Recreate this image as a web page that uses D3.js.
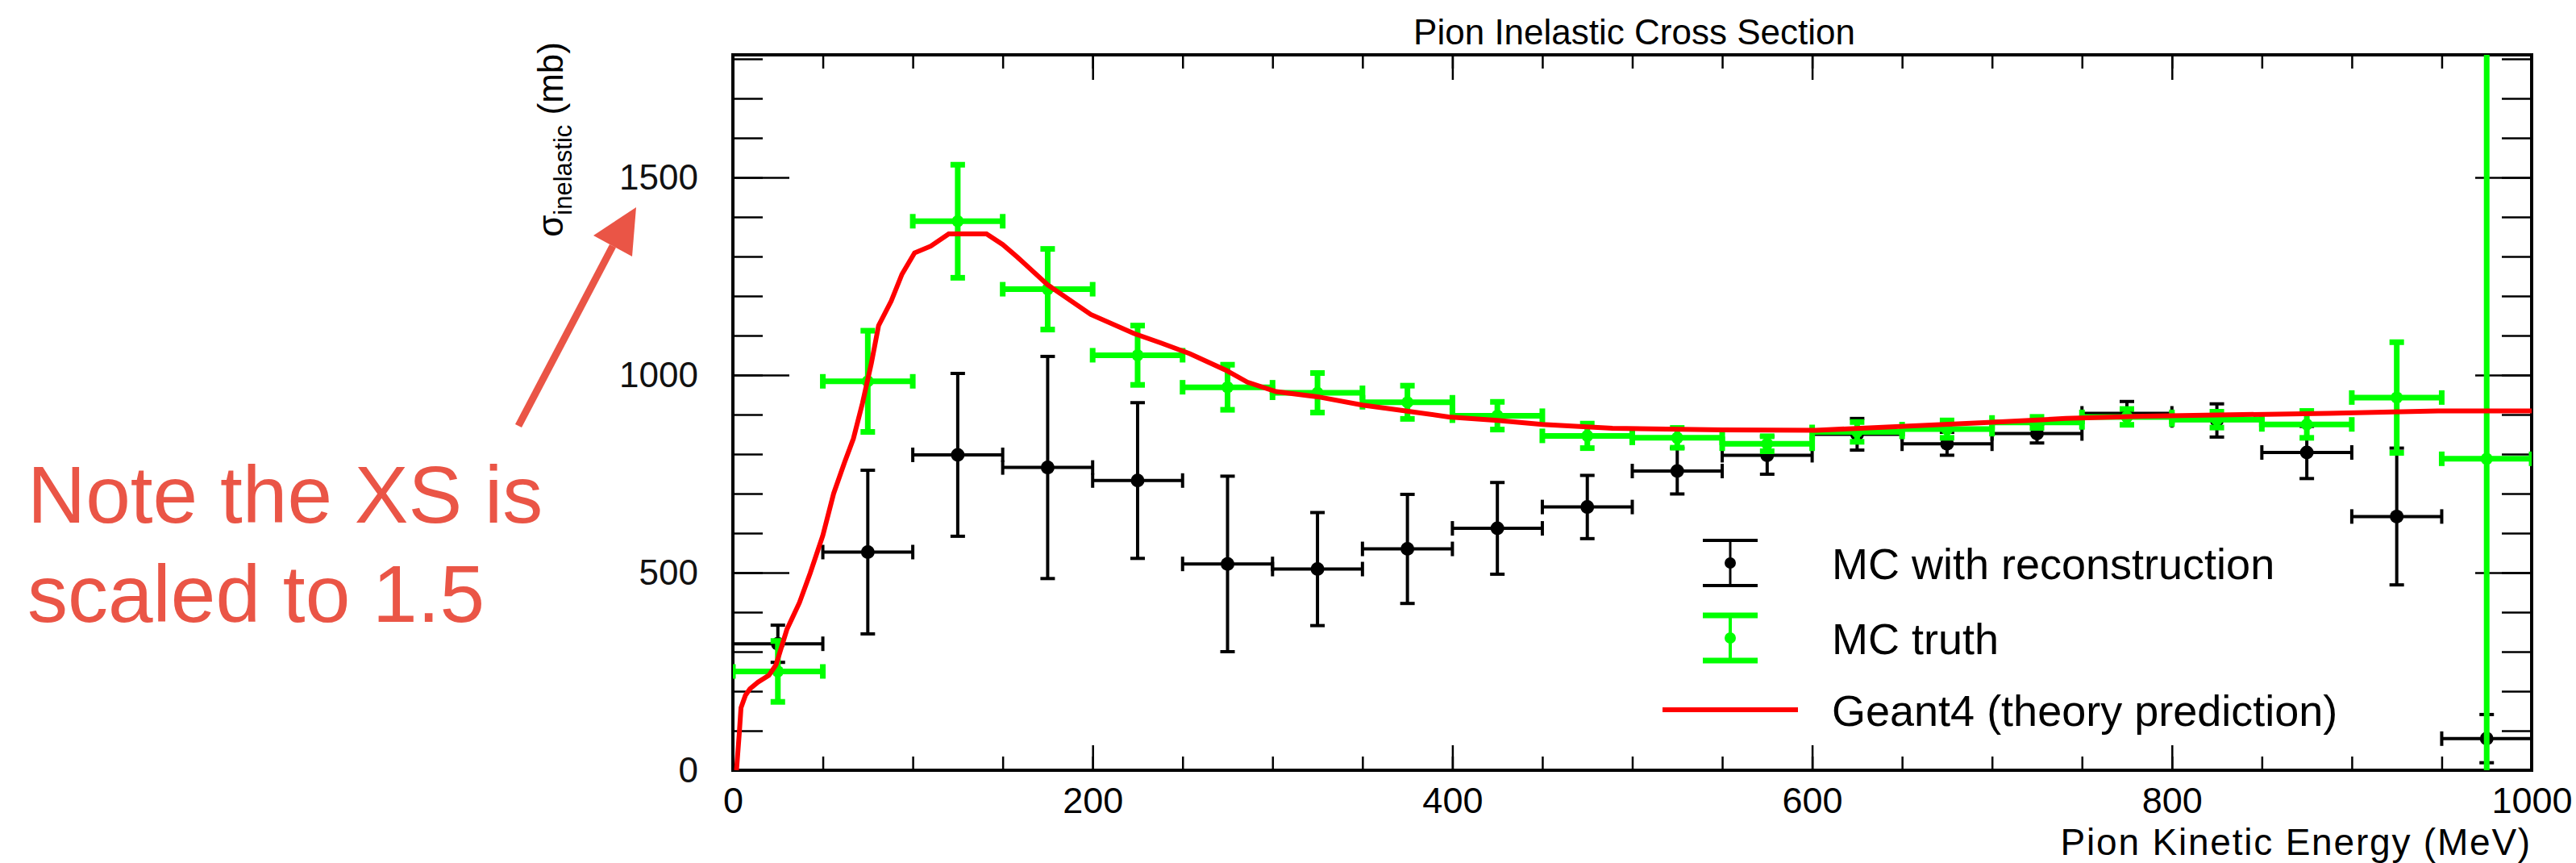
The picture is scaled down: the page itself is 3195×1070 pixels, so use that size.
<!DOCTYPE html>
<html>
<head>
<meta charset="utf-8">
<script src="https://cdn.jsdelivr.net/npm/d3@7/dist/d3.min.js"></script>
<style>
  body { margin: 0; background: #fff; }
  svg { display: block; }
  text { font-family: "Liberation Sans", Arial, Helvetica, sans-serif; }
</style>
</head>
<body>
<svg id="chart" width="3195" height="1070"></svg>
<script>
// bins of 50 MeV, centres
const binCenters = [25, 75, 125, 175, 225, 275, 325, 375, 425, 475, 525, 575, 625, 675, 725, 775, 825, 875, 925, 975];
const binHalfWidth = 25;

// MC with reconstruction (black)
const recoValues = [320, 552, 798, 766, 733, 522, 509, 560, 612, 666, 757, 797, 850, 826, 852, 903, 885, 804, 642, 80];
const recoErrors = [47, 207, 206, 281, 197, 222, 143, 138, 116, 80, 58, 48, 40, 29, 24, 30, 42, 66, 173, 61];

// MC truth (green)
const truthValues = [250, 984, 1389, 1217, 1050, 969, 955, 931, 897, 846, 841, 826, 856, 863, 880, 894, 887, 875, 943, 788];
const truthErrors = [77, 128, 143, 102, 75, 57, 50, 42, 35, 31, 25, 19, 25, 22, 14, 20, 20, 34, 140, 1100];

// Geant4 prediction (red curve)
const geantEnergy = [2, 3.5, 4.5, 7, 9.5, 14, 20, 24, 30, 37, 43, 50, 56, 62, 67, 72, 77, 81, 88, 94, 101, 110, 120, 141, 150, 158, 175, 199, 223, 238, 254, 275, 286, 302, 325, 350, 374, 398, 425, 450, 489, 550, 602, 649, 698, 741, 785, 887, 948, 1000];
const geantXS     = [0, 90, 158, 190, 206, 223, 240, 267, 356, 424, 499, 594, 700, 778, 839, 928, 1030, 1125, 1187, 1255, 1309, 1326, 1357, 1357, 1330, 1299, 1228, 1153, 1105, 1081, 1054, 1010, 982, 958, 945, 924, 909, 894, 885, 875, 865, 861, 860, 870, 880, 890, 896, 903, 909, 909];

const xTickValues = [0, 200, 400, 600, 800, 1000];
const xMinorTicks = d3.range(0, 1001, 50);
const yTickValues = [0, 500, 1000, 1500];
const yMinorTicks = d3.range(0, 1801, 100);
const legendLabels = ["MC with reconstruction", "MC truth", "Geant4 (theory prediction)"];

const svg = d3.select("#chart");
const x = d3.scaleLinear().domain([0, 1000]).range([909, 3140]);
const y = d3.scaleLinear().domain([0, 1810]).range([955, 68]);

svg.append("defs").append("clipPath").attr("id", "plotClip")
  .append("rect")
  .attr("x", x(0)).attr("y", y(1810))
  .attr("width", x(1000) - x(0)).attr("height", y(0) - y(1810));

// ticks (all pointing inside the frame, like ROOT)
function tickAxis(axis, transform, size, values, fmt) {
  const g = svg.append("g").attr("transform", transform)
    .call(axis.tickValues(values).tickSize(size).tickFormat(fmt || ""));
  g.select(".domain").remove();
  g.selectAll(".tick line").attr("stroke", "#000").attr("stroke-width", 2.5);
  return g;
}

const xb = tickAxis(d3.axisBottom(x).tickPadding(21), `translate(0,${y(0)})`, -31, xTickValues, d3.format("d"));
tickAxis(d3.axisBottom(x), `translate(0,${y(0)})`, -17, xMinorTicks);
tickAxis(d3.axisTop(x), `translate(0,${y(1810)})`, -31, xTickValues);
tickAxis(d3.axisTop(x), `translate(0,${y(1810)})`, -17, xMinorTicks);
xb.selectAll("text").attr("font-size", 45).attr("fill", "#000")
  .attr("font-family", "'Liberation Sans', Arial, sans-serif");

const yl = tickAxis(d3.axisLeft(y).tickPadding(43), `translate(${x(0)},0)`, -70, yTickValues, d3.format("d"));
tickAxis(d3.axisLeft(y), `translate(${x(0)},0)`, -37, yMinorTicks);
tickAxis(d3.axisRight(y), `translate(${x(1000)},0)`, -70, yTickValues);
tickAxis(d3.axisRight(y), `translate(${x(1000)},0)`, -37, yMinorTicks);
yl.selectAll("text").attr("font-size", 44).attr("fill", "#111")
  .attr("font-family", "'Liberation Sans', Arial, sans-serif");

// frame
svg.append("rect")
  .attr("x", x(0)).attr("y", y(1810))
  .attr("width", x(1000) - x(0)).attr("height", y(0) - y(1810))
  .attr("fill", "none").attr("stroke", "#000").attr("stroke-width", 4);

// error-bar series
function drawSeries(values, errors, color, lw, capW, r) {
  const g = svg.append("g").attr("clip-path", "url(#plotClip)");
  const pts = g.selectAll("g.pt")
    .data(binCenters.map((c, i) => ({ c: c, v: values[i], e: errors[i] })))
    .enter().append("g").attr("class", "pt");
  pts.append("line")
    .attr("x1", d => x(d.c - binHalfWidth)).attr("x2", d => x(d.c + binHalfWidth))
    .attr("y1", d => y(d.v)).attr("y2", d => y(d.v));
  pts.append("line")
    .attr("x1", d => x(d.c)).attr("x2", d => x(d.c))
    .attr("y1", d => y(d.v - d.e)).attr("y2", d => y(d.v + d.e));
  // caps on both bars
  [-1, 1].forEach(s => {
    pts.append("line")
      .attr("x1", d => x(d.c) - capW / 2).attr("x2", d => x(d.c) + capW / 2)
      .attr("y1", d => y(d.v + s * d.e)).attr("y2", d => y(d.v + s * d.e));
    pts.append("line")
      .attr("x1", d => x(d.c + s * binHalfWidth)).attr("x2", d => x(d.c + s * binHalfWidth))
      .attr("y1", d => y(d.v) - capW / 2).attr("y2", d => y(d.v) + capW / 2);
  });
  pts.selectAll("line").attr("stroke", color).attr("stroke-width", lw);
  pts.append("circle")
    .attr("cx", d => x(d.c)).attr("cy", d => y(d.v)).attr("r", r).attr("fill", color);
}

drawSeries(recoValues, recoErrors, "#000", 4, 18, 8.5);
drawSeries(truthValues, truthErrors, "#00ff00", 7, 18, 7.5);

// Geant4 curve
svg.append("path")
  .datum(geantEnergy.map((e, i) => [e, geantXS[i]]))
  .attr("clip-path", "url(#plotClip)")
  .attr("fill", "none").attr("stroke", "#ff0000").attr("stroke-width", 6)
  .attr("d", d3.line().x(d => x(d[0])).y(d => y(d[1])));

// legend
const legX = 2146, legTextX = 2272, legRows = [698, 791, 880];
const leg = svg.append("g");
[["#000", 4], ["#00ff00", 7]].forEach(([col, lw], i) => {
  const cy = legRows[i];
  leg.append("line").attr("x1", legX).attr("x2", legX).attr("y1", cy - 28).attr("y2", cy + 28)
    .attr("stroke", col).attr("stroke-width", lw === 4 ? 3 : 4);
  [-28, 28].forEach(o => leg.append("line")
    .attr("x1", legX - 34).attr("x2", legX + 34).attr("y1", cy + o).attr("y2", cy + o)
    .attr("stroke", col).attr("stroke-width", lw));
  leg.append("circle").attr("cx", legX).attr("cy", cy).attr("r", 7).attr("fill", col);
});
leg.append("line").attr("x1", 2062).attr("x2", 2230).attr("y1", legRows[2]).attr("y2", legRows[2])
  .attr("stroke", "#ff0000").attr("stroke-width", 6);
leg.selectAll("text.lab").data(legendLabels).enter().append("text")
  .attr("x", legTextX).attr("y", (d, i) => legRows[i] + 20)
  .attr("font-size", 54).attr("fill", "#000").text(d => d);

// titles
svg.append("text").attr("x", 2027).attr("y", 55).attr("text-anchor", "middle")
  .attr("font-size", 44).text("Pion Inelastic Cross Section");
svg.append("text").attr("x", 3140).attr("y", 1060).attr("text-anchor", "end")
  .attr("font-size", 46).attr("letter-spacing", 1.8).text("Pion Kinetic Energy (MeV)");
const yt = svg.append("text").attr("transform", "translate(698,52) rotate(-90)")
  .attr("text-anchor", "end").attr("font-size", 44);
yt.append("tspan").text("σ");
yt.append("tspan").attr("dy", 11).attr("font-size", 31).text("inelastic");
yt.append("tspan").attr("dy", -11).text(" (mb)");

// annotation
const noteColor = "#ea5546";
svg.append("text").attr("x", 34).attr("y", 648).attr("font-size", 100).attr("fill", noteColor)
  .text("Note the XS is");
svg.append("text").attr("x", 34).attr("y", 771).attr("font-size", 100).attr("fill", noteColor)
  .text("scaled to 1.5");
svg.append("line").attr("x1", 643).attr("y1", 528).attr("x2", 760).attr("y2", 305)
  .attr("stroke", noteColor).attr("stroke-width", 9);
svg.append("polygon").attr("points", "736,292 789,257 784,318").attr("fill", noteColor);
</script>
</body>
</html>
